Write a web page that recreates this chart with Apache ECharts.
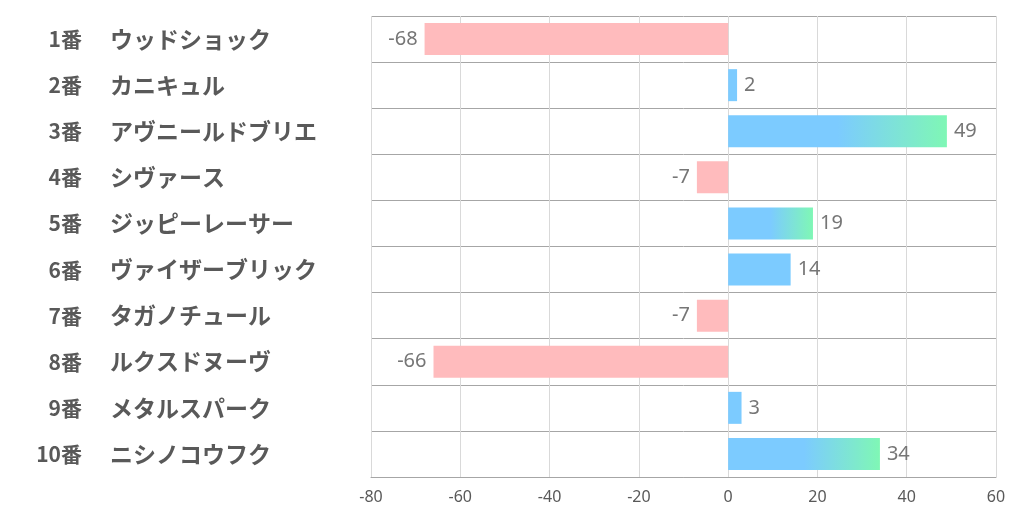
<!DOCTYPE html>
<html>
<head>
<meta charset="utf-8">
<script src="https://cdn.jsdelivr.net/npm/echarts@6/dist/echarts.min.js"></script>
<style>
  html, body { margin: 0; padding: 0; background: #fff; }
  #chart { width: 1022px; height: 522px; }
</style>
</head>
<body>
<div id="chart"></div>
<script>
// 馬番と馬名
const numbers = ['1番', '2番', '3番', '4番', '5番', '6番', '7番', '8番', '9番', '10番'];
const horses = ['ウッドショック', 'カニキュル', 'アヴニールドブリエ', 'シヴァース', 'ジッピーレーサー',
  'ヴァイザーブリック', 'タガノチュール', 'ルクスドヌーヴ', 'メタルスパーク', 'ニシノコウフク'];
const values = [-68, 2, 49, -7, 19, 14, -7, -66, 3, 34];
const xTicks = { min: -80, max: 60, interval: 20 };

const blue = '#7ccbff';
const green = '#7ff7b5';
const pink = '#ffbbbd';

const chartDom = document.getElementById('chart');
const myChart = echarts.init(chartDom);

const barData = values.map(v => {
  let color;
  if (v < 0) {
    color = pink;
  } else if (v > 15) {
    // 大きい値はグラデーション
    color = new echarts.graphic.LinearGradient(0, 0, 1, 0, [
      { offset: 0, color: blue },
      { offset: 0.5, color: blue },
      { offset: 1, color: green }
    ]);
  } else {
    color = blue;
  }
  return {
    value: v,
    itemStyle: { color: color },
    label: { position: v < 0 ? 'left' : 'right' }
  };
});

const labelFont = { color: '#595959', fontWeight: 'bold', fontFamily: 'Noto Sans CJK JP' };

const option = {
  animation: false,
  grid: { left: 371, right: 26, top: 16, bottom: 45 },
  xAxis: {
    type: 'value',
    min: xTicks.min,
    max: xTicks.max,
    interval: xTicks.interval,
    axisLine: { show: true, lineStyle: { color: '#a6a6a6', width: 1 } },
    axisTick: { show: false },
    axisLabel: { color: '#595959', fontSize: 16, fontFamily: 'Noto Sans', margin: 12 },
    splitLine: { show: true, lineStyle: { color: '#d9d9d9', width: 1 } }
  },
  yAxis: [
    {
      // 馬名（左揃え）
      type: 'category',
      inverse: true,
      data: horses,
      axisLine: { show: false },
      axisTick: { show: false },
      splitLine: { show: true, lineStyle: { color: '#a6a6a6', width: 1 } },
      axisLabel: Object.assign({ margin: 261, align: 'left', fontSize: 23, padding: [0, 0, 4, 0] }, labelFont)
    },
    {
      // 馬番（右揃え）
      type: 'category',
      position: 'left',
      inverse: true,
      data: numbers,
      axisLine: { show: false },
      axisTick: { show: false },
      splitLine: { show: false },
      axisLabel: Object.assign({ margin: 289, align: 'right', fontSize: 21, padding: [0, 0, 4, 0] }, labelFont)
    }
  ],
  series: [
    {
      type: 'bar',
      data: barData,
      barWidth: 32,
      label: {
        show: true,
        color: '#767676',
        fontSize: 20,
        fontFamily: 'Noto Sans',
        distance: 7
      }
    }
  ]
};

myChart.setOption(option);
</script>
</body>
</html>
